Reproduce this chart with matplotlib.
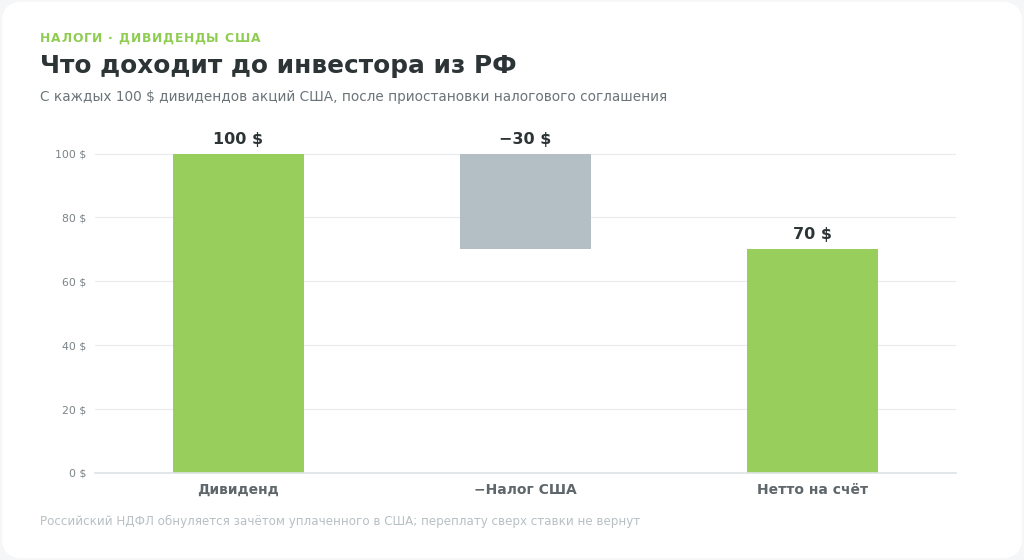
import numpy as np
import matplotlib.pyplot as plt
from matplotlib.patches import FancyBboxPatch

plt.rcParams['font.family'] = ['DejaVu Sans']

# data
categories = ['Дивиденд', '\u2212Налог США', 'Нетто на счёт']
dividend = 100
us_tax = -30
net = dividend + us_tax
values = [dividend, us_tax, net]
labels = ['100 $', '\u221230 $', '70 $']
yticks = [0, 20, 40, 60, 80, 100]

green = '#97ce5c'
grey = '#b4bfc5'

# waterfall geometry
heights = [dividend, -us_tax, net]
bottoms = [0, dividend + us_tax, 0]
tops = [b + h for b, h in zip(bottoms, heights)]
colors = [green, grey, green]

fig = plt.figure(figsize=(10.24, 5.6), dpi=100)
fig.patch.set_facecolor('#f5f6f7')
card = FancyBboxPatch((0.002, 0.003), 0.996, 0.994, boxstyle='round,pad=0,rounding_size=0.02',
                      transform=fig.transFigure, fc='white', ec='none', zorder=-10,
                      mutation_aspect=1024 / 560)
fig.patches.append(card)

# axes placed in pixels: x 95..956, y 0 at 473, 3.194 px per unit
ax = fig.add_axes([95 / 1024, (560 - 473) / 560, 861 / 1024, (473 - 120) / 560])
ax.set_facecolor('none')
x = np.arange(len(categories))
ax.bar(x, heights, bottom=bottoms, width=0.458, color=colors, zorder=3)

for xi, t, lab in zip(x, tops, labels):
    ax.annotate(lab, (xi, t), xytext=(0, 5), textcoords='offset points', ha='center', va='bottom',
                fontsize=11.5, fontweight='bold', color='#2d3436')

ax.set_xlim(-0.5, 2.5)
ax.set_ylim(0, (473 - 120) / 3.194)
ax.set_yticks(yticks)
ax.set_yticklabels(['{} $'.format(v) for v in yticks])
ax.set_xticks(x)
ax.set_xticklabels(categories, fontsize=10, fontweight='bold', color='#5f676b')
ax.tick_params(axis='y', length=0, pad=6, labelsize=7.8, labelcolor='#7b8387')
ax.tick_params(axis='x', length=0, pad=7)
ax.grid(axis='y', color='#e8ebed', lw=0.8, zorder=0)
for s in ax.spines.values():
    s.set_visible(False)
ax.axhline(0, color='#dde3e6', lw=1.2, zorder=4, clip_on=False)

# kicker with letter spacing: place each glyph at the width of the text before it
renderer = fig.canvas.get_renderer()
kicker = 'НАЛОГИ · ДИВИДЕНДЫ США'
ksize = 8.8
probe = fig.text(0, 0, '|', fontsize=ksize, fontweight='bold')
w_ref = probe.get_window_extent(renderer).width
offs = []
for i in range(len(kicker) + 1):
    probe.set_text(kicker[:i] + '|')
    offs.append(probe.get_window_extent(renderer).width - w_ref)
probe.remove()
gap = (220 - offs[-1]) / (len(kicker) - 1)
for i, ch in enumerate(kicker):
    fig.text((40 + offs[i] + gap * i) / 1024, 1 - 42 / 560, ch, fontsize=ksize, fontweight='bold',
             color='#8fcc52', ha='left', va='baseline')

fig.text(40 / 1024, 1 - 73 / 560, 'Что доходит до инвестора из РФ', fontsize=17.8, fontweight='bold',
         color='#2d3436', ha='left', va='baseline')
fig.text(40 / 1024, 1 - 101 / 560, 'С каждых 100 $ дивидендов акций США, после приостановки налогового соглашения',
         fontsize=9.8, color='#6b7478', ha='left', va='baseline')
fig.text(40 / 1024, 1 - 525 / 560, 'Российский НДФЛ обнуляется зачётом уплаченного в США; переплату сверх ставки не вернут',
         fontsize=8.6, color='#b8c0c4', ha='left', va='baseline')

fig.savefig('out.png', dpi=100, facecolor=fig.get_facecolor())
